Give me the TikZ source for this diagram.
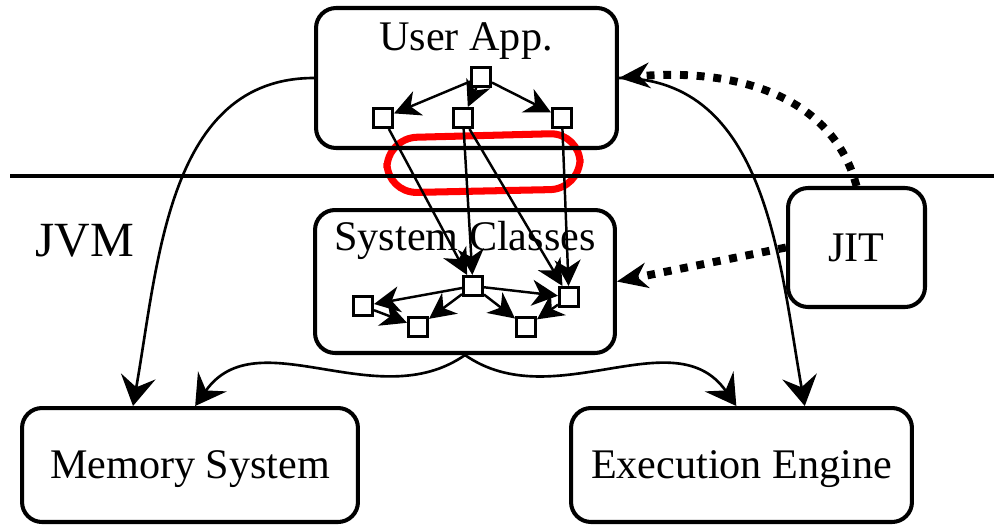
\documentclass[tikz,border=0pt]{standalone}
\usepackage{fontspec}
\setmainfont{Liberation Serif}
\usetikzlibrary{arrows.meta}

\tikzset{
  box/.style={draw, line width=2.3pt, rounded corners=0.4cm, inner sep=0pt, text depth=0pt},
  cls/.style={draw, line width=1.7pt, minimum size=0.38cm, inner sep=0pt},
  title/.style={anchor=base, inner sep=0pt},
  dep/.style={-{Stealth[length=0.52cm, width=0.52cm, inset=0.16cm]}, line width=1.4pt},
  uses/.style={-{Stealth[length=0.6cm, width=0.7cm, inset=0.22cm]}, line width=1.5pt},
  jitarrow/.style={line width=4.5pt, dash pattern=on 4.5pt off 5pt,
    -{Stealth[length=0.62cm, width=0.52cm, inset=0.2cm, line width=0pt]}},
}

\begin{document}
\begin{tikzpicture}[
  x=0.02cm, y=-0.02cm,
  font=\fontsize{24}{29}\selectfont
]
\useasboundingbox (0,0) rectangle (994,525);

% boundary between application and JVM
\draw [red, line width=4pt, rounded corners=0.6cm] (387,138) -- (580,133) -- (580,189) -- (387,193) -- cycle;
\draw [line width=2pt] (10,176) -- (994,176);
\node [title] (jvm) at (85,256) {\fontsize{28}{34}\selectfont JVM};

% components
\node [box, minimum width=6.02cm, minimum height=2.8cm] (app) at (466.5,78) {};
\node [title] (apptitle) at (466,50) {User App.};
\node [box, minimum width=6cm, minimum height=2.86cm] (sys) at (465,281.5) {};
\node [title] (systitle) at (465,250) {System Classes};
\node [box, minimum width=2.74cm, minimum height=2.38cm] (jit) at (856.5,247.5) {JIT};
\node [box, minimum width=6.72cm, minimum height=2.28cm] (mem) at (190,465) {Memory System};
\node [box, minimum width=6.82cm, minimum height=2.28cm] (exec) at (741.5,465) {Execution Engine};

% user classes
\node [cls] (ua) at (481,77) {};
\node [cls] (ub) at (383,118) {};
\node [cls] (uc) at (463,118) {};
\node [cls] (ud) at (562,118) {};

% system classes
\node [cls] (sa) at (473,286) {};
\node [cls] (sb) at (363,306) {};
\node [cls] (sc) at (418,327) {};
\node [cls] (sd) at (526,327) {};
\node [cls] (se) at (569,297) {};

\draw [dep] (ua) -- (ub);
\draw [dep] (ua) -- (uc);
\draw [dep] (ua) -- (ud);

\draw [dep] (ub) -- (sa);
\draw [dep] (uc) -- (sa);
\draw [dep] (uc) -- (se);
\draw [dep] (ud) -- (se);

\draw [dep] (sa) -- (sb);
\draw [dep] (sa) -- (se);
\draw [dep] (sb) -- (sc);
\draw [dep] (sa) -- (sc);
\draw [dep] (sa) -- (sd);
\draw [dep] (se) -- (sd);

% uses of memory and execution engine
\draw [uses] (app.west) to [out=180, in=80] (mem.134);
\draw [uses] (app.east) to [out=0, in=100] (exec.43.5);
\draw [uses] (sys.south) to [out=215, in=55] (mem.85);
\draw [uses] (sys.south) to [out=325, in=125] (exec.95);

% compiled code
\draw [jitarrow] (jit.north) to [out=105, in=5] (app.east);
\draw [jitarrow] (jit.west) -- (sys.east);
\end{tikzpicture}
\end{document}
